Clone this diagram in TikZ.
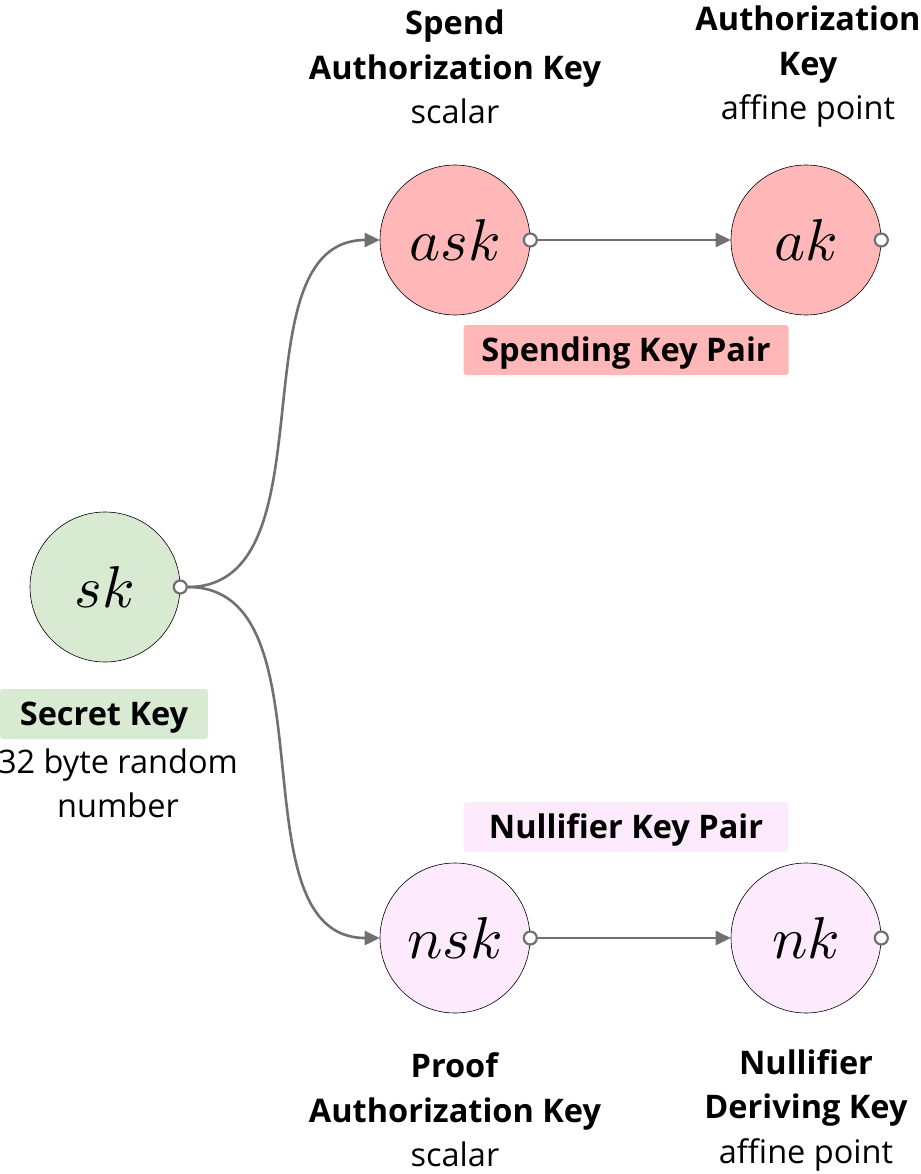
\documentclass[tikz,border=0pt]{standalone}
\usepackage{fix-cm}
\DeclareFontShape{OML}{cmm}{m}{it}{<->cmmi10}{\skewchar\font'177}
\usepackage{fontspec}
\setmainfont{Open Sans}
\usepackage{xcolor}
\usetikzlibrary{positioning,arrows.meta}
\definecolor{spendred}{RGB}{255,183,183}
\definecolor{secretgreen}{RGB}{217,234,211}
\definecolor{nullpink}{RGB}{253,234,253}
\definecolor{linegray}{RGB}{112,112,112}
\tikzset{
  key-node/.style={circle, draw=black, line width=0.6pt, minimum size=150pt,
    inner sep=0pt, font=\fontsize{59}{59}\selectfont},
  port-node/.style={circle, draw=linegray, line width=2.2pt, fill=white,
    minimum size=13pt, inner sep=0pt},
  flow-arrow/.style={-{Triangle[length=15pt,width=14pt]}, line width=2.6pt, draw=linegray},
  pair-box/.style={rounded corners=3pt, minimum width=325pt, minimum height=50pt,
    inner sep=0pt, text height=23pt, text depth=0pt,
    font=\fontsize{32.5}{32.5}\selectfont\bfseries},
  key-label/.style={align=center, font=\fontsize{32.5}{44.5}\selectfont}
}
\begin{document}
\begin{tikzpicture}[x=1pt, y=-1pt]
\useasboundingbox (0,0) rectangle (920,1174);
% Secret key (left)
\node[key-node, fill=secretgreen] (sk) at (105,587) {$sk$};
\node[port-node] (skport) at (sk.east) {};
\node[pair-box, fill=secretgreen, minimum width=208pt] (sklabel) at (104,714) {Secret Key};
\node[key-label, anchor=north] (skdesc) at (118,745) {32 byte random\\number};

% Spending key pair (top row)
\node[key-node, fill=spendred] (ask) at (455,240) {$ask$};
\node[port-node] (askport) at (ask.east) {};
\node[key-node, fill=spendred] (ak) at (806,240) {$ak$};
\node[port-node] (akport) at (ak.east) {};
\node[pair-box, fill=spendred] (spendpair) at (626,350) {Spending Key Pair};
\node[key-label] (asklabel) at (455,67) {\textbf{Spend}\\\textbf{Authorization Key}\\scalar};
\node[key-label] (aklabel) at (808,67) {\textbf{Authorization}\\\textbf{Key}\\affine point};

% Nullifier key pair (bottom row)
\node[key-node, fill=nullpink] (nsk) at (455,938) {$nsk$};
\node[port-node] (nskport) at (nsk.east) {};
\node[key-node, fill=nullpink] (nk) at (806,938) {$nk$};
\node[port-node] (nkport) at (nk.east) {};
\node[pair-box, fill=nullpink] (nullpair) at (626,827) {Nullifier Key Pair};
\node[key-label] (nsklabel) at (455,1110) {\textbf{Proof}\\\textbf{Authorization Key}\\scalar};
\node[key-label] (nklabel) at (806,1110) {\textbf{Nullifier}\\\textbf{Deriving Key}\\affine point};

% Derivations
\draw[flow-arrow] (skport) to[out=0, in=180, looseness=0.95] (ask.west);
\draw[flow-arrow] (skport) to[out=0, in=180, looseness=0.95] (nsk.west);
\draw[flow-arrow] (askport) -- (ak.west);
\draw[flow-arrow] (nskport) -- (nk.west);
\end{tikzpicture}
\end{document}
